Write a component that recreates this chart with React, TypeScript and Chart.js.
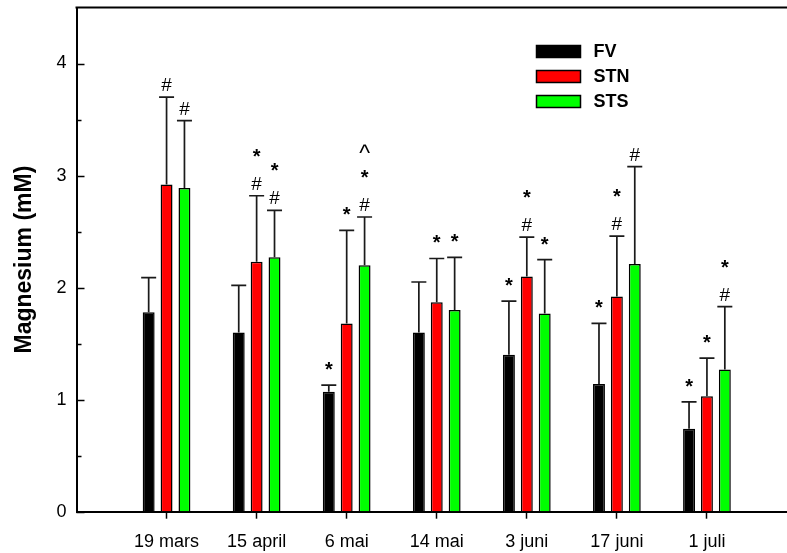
import React, { useEffect, useRef } from 'react';
import { Chart, registerables } from 'chart.js';

Chart.register(...registerables);

// ---- data ----
const categories = ['19 mars', '15 april', '6 mai', '14 mai', '3 juni', '17 juni', '1 juli'];
const seriesNames = ['FV', 'STN', 'STS'];
const seriesColors = ['#000000', '#ff0000', '#00ff00'];

const fvMeans = [1.78, 1.6, 1.07, 1.6, 1.4, 1.14, 0.74];
const fvSd = [0.31, 0.42, 0.06, 0.45, 0.48, 0.54, 0.24];
const fvMarks = ['', '', '*', '', '*', '*', '*'];

const stnMeans = [2.92, 2.23, 1.68, 1.87, 2.1, 1.92, 1.03];
const stnSd = [0.78, 0.59, 0.83, 0.39, 0.35, 0.54, 0.34];
const stnMarks = ['#', '#*', '*', '*', '#*', '#*', '*'];

const stsMeans = [2.89, 2.27, 2.2, 1.8, 1.77, 2.21, 1.27];
const stsSd = [0.6, 0.42, 0.43, 0.47, 0.48, 0.87, 0.56];
const stsMarks = ['#', '#*', '#*^', '*', '*', '#', '#*'];

const yMajorTicks = [0, 1, 2, 3, 4];
const yMinorTicks = [0.5, 1.5, 2.5, 3.5];
const yMin = 0;
const yMax = 4.5;

const FONT = '"Liberation Sans", Arial, Helvetica, sans-serif';

export default function App() {
  const canvasRef = useRef<HTMLCanvasElement>(null);

  useEffect(() => {
    const canvas = canvasRef.current;
    if (!canvas) return;

    const labels = ['', ...categories, ''];
    const padArr = (a: any[]) => [null, ...a, null];

    const series = [
      { name: seriesNames[0], color: seriesColors[0], means: fvMeans, sd: fvSd, marks: fvMarks },
      { name: seriesNames[1], color: seriesColors[1], means: stnMeans, sd: stnSd, marks: stnMarks },
      { name: seriesNames[2], color: seriesColors[2], means: stsMeans, sd: stsSd, marks: stsMarks },
    ];

    const errorPlugin = {
      id: 'errorBarsAndMarks',
      afterDatasetsDraw(chart: any) {
        const { ctx } = chart;
        const ys = chart.scales.y;
        ctx.save();
        series.forEach((s, di) => {
          const meta = chart.getDatasetMeta(di);
          s.means.forEach((v, i) => {
            const el = meta.data[i + 1];
            if (!el) return;
            const x = el.x;
            const yTop = ys.getPixelForValue(v);
            const yCap = ys.getPixelForValue(v + s.sd[i]);
            ctx.strokeStyle = '#1a1a1a';
            ctx.lineWidth = 1.7;
            ctx.beginPath();
            ctx.moveTo(x, yTop);
            ctx.lineTo(x, yCap);
            ctx.moveTo(x - 7.5, yCap);
            ctx.lineTo(x + 7.5, yCap);
            ctx.stroke();
            const marks = s.marks[i].split('');
            if (!marks.length) return;
            ctx.fillStyle = '#000';
            ctx.textAlign = 'center';
            ctx.textBaseline = 'alphabetic';
            const base = yCap - (marks[0] === '*' ? 9 : 6);
            marks.forEach((m, k) => {
              if (m === '*') ctx.font = `bold 20px ${FONT}`;
              else if (m === '^') ctx.font = `23px ${FONT}`;
              else ctx.font = `19px ${FONT}`;
              ctx.fillText(m, x, base - k * 27 + (m === '^' ? 4 : 0));
            });
          });
        });
        ctx.restore();
      },
    };

    const framePlugin = {
      id: 'frameAndLegend',
      afterDraw(chart: any) {
        const { ctx, chartArea } = chart;
        const ys = chart.scales.y;
        ctx.save();
        ctx.strokeStyle = '#000';
        ctx.lineWidth = 2;
        ctx.beginPath();
        ctx.moveTo(chartArea.left - 1, chartArea.top);
        ctx.lineTo(chart.width, chartArea.top);
        ctx.stroke();
        ctx.lineWidth = 1.5;
        ctx.beginPath();
        yMajorTicks.forEach((v) => {
          const py = Math.round(ys.getPixelForValue(v)) + 0.5;
          ctx.moveTo(chartArea.left, py);
          ctx.lineTo(chartArea.left + 8, py);
        });
        yMinorTicks.forEach((v) => {
          const py = Math.round(ys.getPixelForValue(v)) + 0.5;
          ctx.moveTo(chartArea.left, py);
          ctx.lineTo(chartArea.left + 5, py);
        });
        ctx.stroke();

        // legend
        series.forEach((s, k) => {
          const bx = chartArea.left + 460;
          const by = chartArea.top + 38 + k * 25;
          ctx.fillStyle = s.color;
          ctx.fillRect(bx, by, 44, 12);
          ctx.strokeStyle = '#000';
          ctx.lineWidth = 1.5;
          ctx.strokeRect(bx, by, 44, 12);
          ctx.fillStyle = '#000';
          ctx.font = `bold 18px ${FONT}`;
          ctx.textAlign = 'left';
          ctx.textBaseline = 'middle';
          ctx.fillText(s.name, bx + 57, by + 7);
        });
        ctx.restore();
      },
    };

    const chart = new Chart(canvas, {
      type: 'bar',
      data: {
        labels,
        datasets: series.map((s) => ({
          label: s.name,
          data: padArr(s.means),
          backgroundColor: s.color,
          borderColor: '#000',
          borderWidth: 1.5,
          barPercentage: 0.667,
          categoryPercentage: 0.596,
        })),
      },
      options: {
        responsive: false,
        animation: false,
        devicePixelRatio: 1,
        layout: { padding: { top: 7.5, right: 8.7, left: 0, bottom: 0 } },
        plugins: {
          legend: { display: false },
          tooltip: { enabled: false },
        },
        scales: {
          x: {
            type: 'category',
            offset: false,
            grid: {
              display: true,
              offset: false,
              drawOnChartArea: false,
              drawTicks: true,
              tickLength: 7,
              tickWidth: 1.5,
              tickColor: (ctx: any) => (labels[ctx.index] ? '#000' : 'rgba(0,0,0,0)'),
            },
            border: { display: true, color: '#000', width: 2 },
            ticks: {
              color: '#000',
              font: { family: FONT, size: 18 },
              padding: 13,
              autoSkip: false,
              maxRotation: 0,
            },
            afterFit: (s: any) => {
              s.height = 41.3;
            },
          },
          y: {
            type: 'linear',
            min: yMin,
            max: yMax,
            afterBuildTicks: (s: any) => {
              s.ticks = yMajorTicks.map((v) => ({ value: v }));
            },
            grid: { display: true, drawOnChartArea: false, drawTicks: false },
            border: { display: true, color: '#000', width: 2 },
            ticks: {
              color: '#000',
              font: { family: FONT, size: 18 },
              padding: 10,
            },
            title: {
              display: true,
              text: 'Magnesium (mM)',
              color: '#000',
              font: { family: FONT, size: 23, weight: 'bold' },
              padding: { top: 11, bottom: 0 },
            },
            afterFit: (s: any) => {
              s.width = 76.5;
              s.paddingTop = 0;
              s.paddingBottom = 0;
            },
          },
        },
      },
      plugins: [errorPlugin, framePlugin],
    });

    return () => chart.destroy();
  }, []);

  return (
    <div
      style={{
        position: 'fixed',
        left: 0,
        top: 0,
        width: '787px',
        height: '553px',
        overflow: 'hidden',
        background: '#fff',
      }}
    >
      <canvas ref={canvasRef} width={810} height={553} style={{ display: 'block' }} />
    </div>
  );
}
